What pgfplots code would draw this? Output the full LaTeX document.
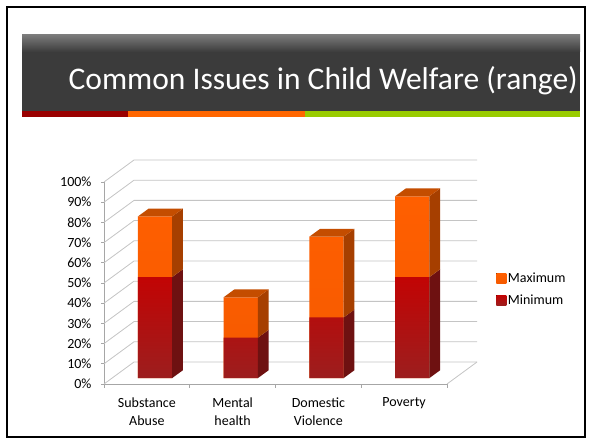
\documentclass[border=0pt]{standalone}
\usepackage{pgfplots}
\pgfplotsset{compat=1.18}
\usepackage{fontspec}
\setmainfont{Carlito}
\definecolor{barbg}{HTML}{3B3B3B}
\definecolor{barlt}{HTML}{7A7A7A}
\definecolor{strred}{HTML}{990000}
\definecolor{strorg}{HTML}{FF6600}
\definecolor{strgrn}{HTML}{99CC00}
\definecolor{gridc}{HTML}{C4C4C4}
\definecolor{axc}{HTML}{A6A6A6}
\definecolor{maxfront}{HTML}{FF5F00}
\definecolor{maxfrontb}{HTML}{F55A00}
\definecolor{maxside}{HTML}{A63F00}
\definecolor{maxtop}{HTML}{C44D00}
\definecolor{minfront}{HTML}{C20404}
\definecolor{minfrontb}{HTML}{9C1E1E}
\definecolor{minside}{HTML}{6E1111}
\begin{document}
\begin{tikzpicture}[x=1pt,y=1pt]
\path[use as bounding box] (0,0) rectangle (592,444);
\fill[white] (0,0) rectangle (592,444);
\draw[black, line width=2pt] (7,7) rectangle (585,437);
% title bar
\fill[barbg] (22,333) rectangle (580,409);
\shade[top color=barlt, bottom color=barbg] (22,392) rectangle (580,409);
\fill[strred] (22,327) rectangle (128,333);
\fill[strorg] (128,327) rectangle (305,333);
\fill[strgrn] (305,327) rectangle (580,333);
\node[anchor=base east, text=white, inner sep=0pt, font=\fontsize{31.5}{38}\selectfont] at (578,354) {Common Issues in Child Welfare (range)};
% front plane axis with walls
\begin{axis}[
  at={(104pt,60pt)}, anchor=south west,
  scale only axis, width=343pt, height=202pt,
  xmin=-0.5, xmax=3.5, ymin=0, ymax=100,
  clip=false,
  axis x line*=bottom, axis y line*=left,
  axis line style={draw=axc, line width=0.8pt},
  xtick={0,1,2,3},
  xticklabels={{Substance\\Abuse},{Mental\\health},{Domestic\\Violence},{Poverty}},
  minor xtick={-0.5,0.5,1.5,2.5,3.5},
  major x tick style={draw=none},
  minor x tick style={draw=axc, line width=0.8pt},
  ytick={0,10,...,100},
  y tick style={draw=axc, line width=0.8pt},
  tick align=outside,
  major tick length=3pt, minor tick length=4pt,
  yticklabel={\pgfmathprintnumber{\tick}\%},
  /pgf/number format/assume math mode=true,
  yticklabel style={font=\fontsize{14}{16}\selectfont, xshift=-6pt},
  xticklabel style={align=center, font=\fontsize{14}{18}\selectfont, yshift=-7pt},
]
\fill[white] (axis cs:-0.5,0) -- (axis cs:3.5,0) -- ([shift={(30pt,22pt)}]axis cs:3.5,0) -- ([shift={(30pt,22pt)}]axis cs:-0.5,0) -- cycle;
\draw[gridc, line width=0.8pt] (axis cs:3.5,0) -- ([shift={(30pt,22pt)}]axis cs:3.5,0);
\pgfplotsinvokeforeach{0,10,20,30,40,50,60,70,80,90,100}{
  \draw[gridc, line width=0.8pt] (axis cs:-0.5,#1) -- ([shift={(30pt,22pt)}]axis cs:-0.5,#1) -- ([shift={(30pt,22pt)}]axis cs:3.5,#1);
}
\addplot[draw=none, mark=none, forget plot] coordinates {(0,0)};
\end{axis}
% bar plane axis
\begin{axis}[
  at={(112.1pt,65.9pt)}, anchor=south west,
  scale only axis, width=343pt, height=202pt,
  xmin=-0.5, xmax=3.5, ymin=0, ymax=100,
  clip=false, hide axis,
  legend style={at={(1.12,0.44)}, anchor=west, draw=none, fill=none,
    font=\fontsize{14}{16}\selectfont, row sep=8pt, inner sep=0pt,
    nodes={inner sep=1.5pt, anchor=west}},
  legend cell align=left,
  legend image code/.code={\fill[#1] (0pt,-5pt) rectangle (10pt,5pt);},
]
\addplot[ybar, bar width=0.4, bar shift=0pt, draw=none, top color=maxfront, bottom color=maxfrontb] coordinates {(0,80) (1,40) (2,70) (3,90)};
\addplot[ybar, bar width=0.4, bar shift=0pt, draw=none, top color=minfront, bottom color=minfrontb] coordinates {(0,50) (1,20) (2,30) (3,50)};
\legend{Maximum,Minimum}
% side faces (min)
\addplot[draw=none, mark=none, fill=minside, forget plot] coordinates {(0.2,0) (0.326,3.9) (0.326,53.9) (0.2,50)};
\addplot[draw=none, mark=none, fill=minside, forget plot] coordinates {(1.2,0) (1.326,3.9) (1.326,23.9) (1.2,20)};
\addplot[draw=none, mark=none, fill=minside, forget plot] coordinates {(2.2,0) (2.326,3.9) (2.326,33.9) (2.2,30)};
\addplot[draw=none, mark=none, fill=minside, forget plot] coordinates {(3.2,0) (3.326,3.9) (3.326,53.9) (3.2,50)};
% side faces (max)
\addplot[draw=none, mark=none, fill=maxside, forget plot] coordinates {(0.2,50) (0.326,53.9) (0.326,83.9) (0.2,80)};
\addplot[draw=none, mark=none, fill=maxside, forget plot] coordinates {(1.2,20) (1.326,23.9) (1.326,43.9) (1.2,40)};
\addplot[draw=none, mark=none, fill=maxside, forget plot] coordinates {(2.2,30) (2.326,33.9) (2.326,73.9) (2.2,70)};
\addplot[draw=none, mark=none, fill=maxside, forget plot] coordinates {(3.2,50) (3.326,53.9) (3.326,93.9) (3.2,90)};
% top faces
\addplot[draw=none, mark=none, fill=maxtop, forget plot] coordinates {(-0.2,80) (0.2,80) (0.326,83.9) (-0.074,83.9)};
\addplot[draw=none, mark=none, fill=maxtop, forget plot] coordinates {(0.8,40) (1.2,40) (1.326,43.9) (0.926,43.9)};
\addplot[draw=none, mark=none, fill=maxtop, forget plot] coordinates {(1.8,70) (2.2,70) (2.326,73.9) (1.926,73.9)};
\addplot[draw=none, mark=none, fill=maxtop, forget plot] coordinates {(2.8,90) (3.2,90) (3.326,93.9) (2.926,93.9)};
\end{axis}
\end{tikzpicture}
\end{document}
